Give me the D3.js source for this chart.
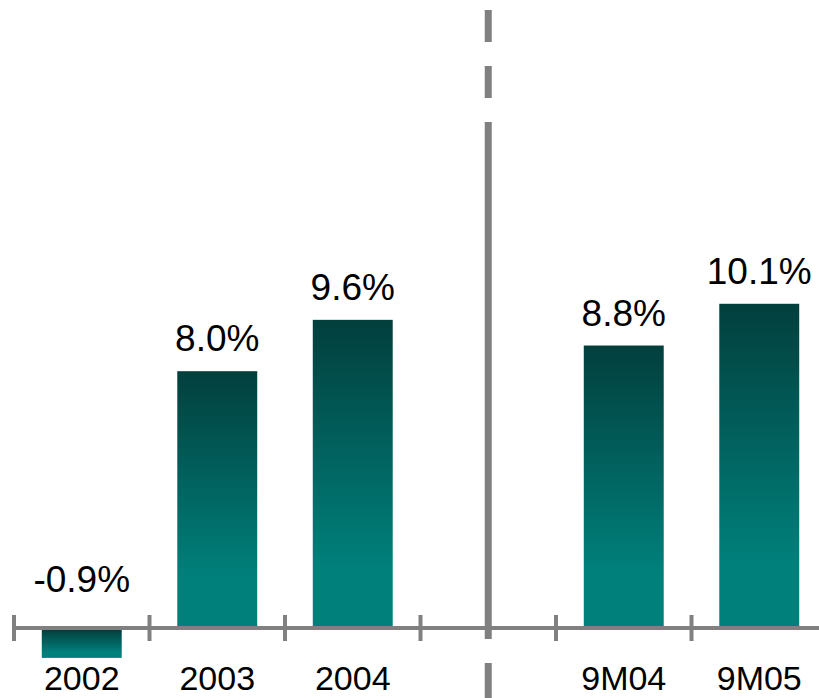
<!DOCTYPE html>
<html>
<head>
<meta charset="utf-8">
<script src="https://cdn.jsdelivr.net/npm/d3@7"></script>
<style>
  body { margin: 0; background: #fff; }
  svg { display: block; }
  text { font-family: Arial, "Liberation Sans", sans-serif; fill: #000; }
</style>
</head>
<body>
<div id="chart"></div>
<script>
// slots on the axis, the empty one holds the divider
var categories = ["2002", "2003", "2004", "", "9M04", "9M05"];
var barCategories = ["2002", "2003", "2004", "9M04", "9M05"];
var growth = [-0.9, 8.0, 9.6, 8.8, 10.1];
var valueLabels = ["-0.9%", "8.0%", "9.6%", "8.8%", "10.1%"];

var width = 819, height = 698;
var baseY = 628;

var svg = d3.select("#chart")
  .append("svg")
  .attr("width", width)
  .attr("height", height);

var x = d3.scaleBand()
  .domain(categories)
  .range([14, 827])
  .paddingInner(0.41)
  .paddingOuter(0.205);

var y = d3.scaleLinear()
  .domain([0, 10])
  .range([baseY, 307]);

var step = x.step();
var gapOffset = (step - x.bandwidth()) / 2;

// gradient, dark on top to teal
var grad = svg.append("defs")
  .append("linearGradient")
  .attr("id", "barGrad")
  .attr("x1", 0).attr("y1", 0)
  .attr("x2", 0).attr("y2", 1);
grad.append("stop").attr("offset", "0%").attr("stop-color", "#023f3d");
grad.append("stop").attr("offset", "80%").attr("stop-color", "#00807b");
grad.append("stop").attr("offset", "100%").attr("stop-color", "#00807b");

var data = barCategories.map(function(c, i) {
  return { cat: c, value: growth[i], label: valueLabels[i] };
});

svg.selectAll(".bar")
  .data(data)
  .enter()
  .append("rect")
  .attr("class", "bar")
  .attr("x", function(d) { return x(d.cat); })
  .attr("width", x.bandwidth())
  .attr("y", function(d) { return d.value >= 0 ? y(d.value) : y(0) + 2; })
  .attr("height", function(d) { return Math.abs(y(d.value) - y(0)) - (d.value >= 0 ? 0 : 1); })
  .attr("fill", "url(#barGrad)");

// axis line and ticks at band edges
var tickXs = categories.map(function(c) { return x(c) - gapOffset; });
tickXs.push(x(categories[categories.length - 1]) + x.bandwidth() + gapOffset);

svg.append("line")
  .attr("x1", 12).attr("x2", width)
  .attr("y1", baseY).attr("y2", baseY)
  .attr("stroke", "#808080")
  .attr("stroke-width", 4);

svg.selectAll(".tick")
  .data(tickXs)
  .enter()
  .append("line")
  .attr("class", "tick")
  .attr("x1", function(d) { return d; })
  .attr("x2", function(d) { return d; })
  .attr("y1", baseY - 13)
  .attr("y2", baseY + 13)
  .attr("stroke", "#808080")
  .attr("stroke-width", 4);

// divider between years and nine-month figures
var divX = x("") + x.bandwidth() / 2;
var divSegments = [[10, 42], [66, 98], [122, 639], [663, 698]];
svg.selectAll(".divider")
  .data(divSegments)
  .enter()
  .append("line")
  .attr("class", "divider")
  .attr("x1", divX).attr("x2", divX)
  .attr("y1", function(d) { return d[0]; })
  .attr("y2", function(d) { return d[1]; })
  .attr("stroke", "#808080")
  .attr("stroke-width", 7);

// value labels
svg.selectAll(".value")
  .data(data)
  .enter()
  .append("text")
  .attr("class", "value")
  .attr("x", function(d) { return x(d.cat) + x.bandwidth() / 2; })
  .attr("y", function(d) { return d.value >= 0 ? y(d.value) - 20 : y(0) - 36; })
  .attr("text-anchor", "middle")
  .attr("font-size", "37px")
  .text(function(d) { return d.label; });

// category labels
svg.selectAll(".cat")
  .data(barCategories)
  .enter()
  .append("text")
  .attr("class", "cat")
  .attr("x", function(d) { return x(d) + x.bandwidth() / 2; })
  .attr("y", 690)
  .attr("text-anchor", "middle")
  .attr("font-size", "34px")
  .text(function(d) { return d; });
</script>
</body>
</html>
